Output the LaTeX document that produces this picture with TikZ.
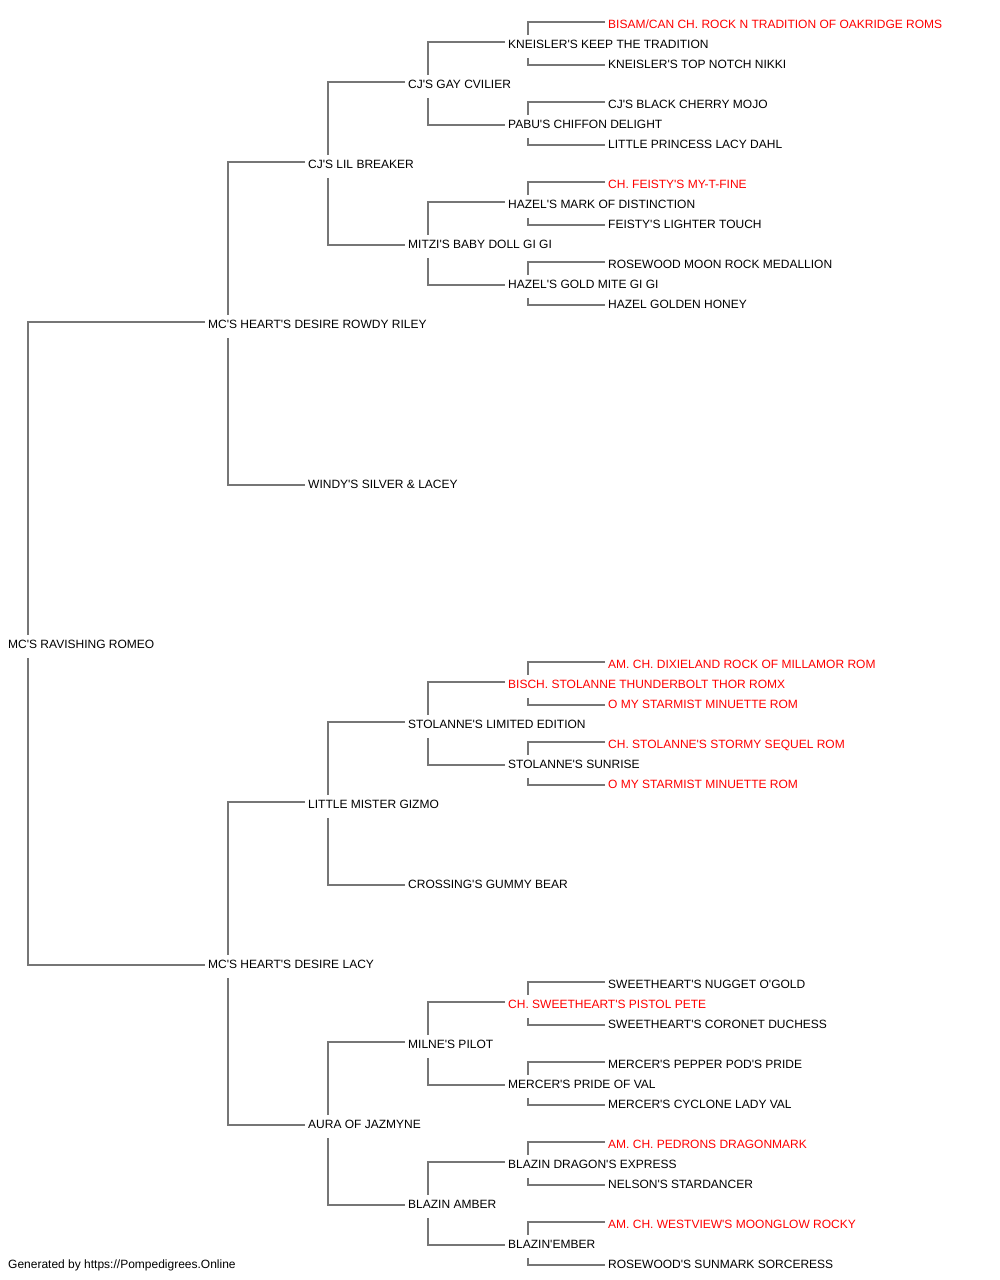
\documentclass[tikz,border=0pt]{standalone}
\usepackage{fontspec}
\setmainfont{Liberation Sans}[Ligatures=TeXOff]
\usetikzlibrary{calc}
\definecolor{linegray}{RGB}{118,118,118}
\definecolor{titlered}{RGB}{255,0,0}
\tikzset{
  dog/.style={anchor=west, inner sep=0pt, text height=8.6pt, text depth=0pt,
    font=\fontsize{12}{14}\selectfont, text=black},
  titled/.style={dog, text=titlered},
  link/.style={draw=linegray, line width=1.3pt},
}
\newcommand{\conn}[3]{%
  \draw[link] ($(#2.west)+(-3,-2)$) -| ($(#1.west)+(20,-9)$);
  \draw[link] ($(#3.west)+(-3,1)$) -| ($(#1.west)+(20,14)$);
}
\begin{document}
\begin{tikzpicture}[x=1pt,y=-1pt]
\useasboundingbox (0,0) rectangle (1000,1280);
% generation 0
\node[dog] (r) at (8,644) {MC'S RAVISHING ROMEO};
% generation 1
\node[dog] (s) at (208,324) {MC'S HEART'S DESIRE ROWDY RILEY};
\node[dog] (d) at (208,964) {MC'S HEART'S DESIRE LACY};
% generation 2
\node[dog] (ss) at (308,164) {CJ'S LIL BREAKER};
\node[dog] (sd) at (308,484) {WINDY'S SILVER \& LACEY};
\node[dog] (ds) at (308,804) {LITTLE MISTER GIZMO};
\node[dog] (dd) at (308,1124) {AURA OF JAZMYNE};
% generation 3
\node[dog] (sss) at (408,84) {CJ'S GAY CVILIER};
\node[dog] (ssd) at (408,244) {MITZI'S BABY DOLL GI GI};
\node[dog] (dss) at (408,724) {STOLANNE'S LIMITED EDITION};
\node[dog] (dsd) at (408,884) {CROSSING'S GUMMY BEAR};
\node[dog] (dds) at (408,1044) {MILNE'S PILOT};
\node[dog] (ddd) at (408,1204) {BLAZIN AMBER};
% generation 4
\node[dog] (ssss) at (508,44) {KNEISLER'S KEEP THE TRADITION};
\node[dog] (sssd) at (508,124) {PABU'S CHIFFON DELIGHT};
\node[dog] (ssds) at (508,204) {HAZEL'S MARK OF DISTINCTION};
\node[dog] (ssdd) at (508,284) {HAZEL'S GOLD MITE GI GI};
\node[titled] (dsss) at (508,684) {BISCH. STOLANNE THUNDERBOLT THOR ROMX};
\node[dog] (dssd) at (508,764) {STOLANNE'S SUNRISE};
\node[titled] (ddss) at (508,1004) {CH. SWEETHEART'S PISTOL PETE};
\node[dog] (ddsd) at (508,1084) {MERCER'S PRIDE OF VAL};
\node[dog] (ddds) at (508,1164) {BLAZIN DRAGON'S EXPRESS};
\node[dog] (dddd) at (508,1244) {BLAZIN'EMBER};
% generation 5
\node[titled] (a1) at (608,24) {BISAM/CAN CH. ROCK N TRADITION OF OAKRIDGE ROMS};
\node[dog] (a2) at (608,64) {KNEISLER'S TOP NOTCH NIKKI};
\node[dog] (a3) at (608,104) {CJ'S BLACK CHERRY MOJO};
\node[dog] (a4) at (608,144) {LITTLE PRINCESS LACY DAHL};
\node[titled] (a5) at (608,184) {CH. FEISTY'S MY-T-FINE};
\node[dog] (a6) at (608,224) {FEISTY'S LIGHTER TOUCH};
\node[dog] (a7) at (608,264) {ROSEWOOD MOON ROCK MEDALLION};
\node[dog] (a8) at (608,304) {HAZEL GOLDEN HONEY};
\node[titled] (b1) at (608,664) {AM. CH. DIXIELAND ROCK OF MILLAMOR ROM};
\node[titled] (b2) at (608,704) {O MY STARMIST MINUETTE ROM};
\node[titled] (b3) at (608,744) {CH. STOLANNE'S STORMY SEQUEL ROM};
\node[titled] (b4) at (608,784) {O MY STARMIST MINUETTE ROM};
\node[dog] (c1) at (608,984) {SWEETHEART'S NUGGET O'GOLD};
\node[dog] (c2) at (608,1024) {SWEETHEART'S CORONET DUCHESS};
\node[dog] (c3) at (608,1064) {MERCER'S PEPPER POD'S PRIDE};
\node[dog] (c4) at (608,1104) {MERCER'S CYCLONE LADY VAL};
\node[titled] (c5) at (608,1144) {AM. CH. PEDRONS DRAGONMARK};
\node[dog] (c6) at (608,1184) {NELSON'S STARDANCER};
\node[titled] (c7) at (608,1224) {AM. CH. WESTVIEW'S MOONGLOW ROCKY};
\node[dog] (c8) at (608,1264) {ROSEWOOD'S SUNMARK SORCERESS};
% footer
\node[dog] (foot) at (8,1264) {Generated by https://Pompedigrees.Online};
% connectors
\conn{r}{s}{d}
\conn{s}{ss}{sd}
\conn{d}{ds}{dd}
\conn{ss}{sss}{ssd}
\conn{ds}{dss}{dsd}
\conn{dd}{dds}{ddd}
\conn{sss}{ssss}{sssd}
\conn{ssd}{ssds}{ssdd}
\conn{dss}{dsss}{dssd}
\conn{dds}{ddss}{ddsd}
\conn{ddd}{ddds}{dddd}
\conn{ssss}{a1}{a2}
\conn{sssd}{a3}{a4}
\conn{ssds}{a5}{a6}
\conn{ssdd}{a7}{a8}
\conn{dsss}{b1}{b2}
\conn{dssd}{b3}{b4}
\conn{ddss}{c1}{c2}
\conn{ddsd}{c3}{c4}
\conn{ddds}{c5}{c6}
\conn{dddd}{c7}{c8}
\end{tikzpicture}
\end{document}
